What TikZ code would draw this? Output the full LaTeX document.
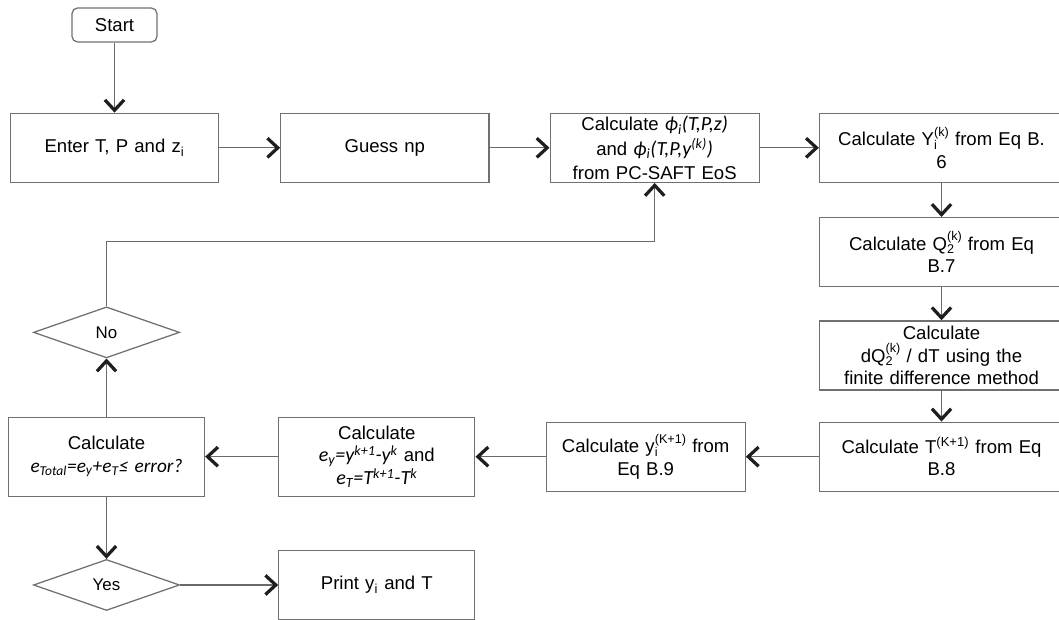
\documentclass[tikz,border=0pt]{standalone}
\usepackage{fontspec}
\setmainfont{Liberation Sans}
\newfontfamily\calfont[Scale=1.08]{Carlito}
\usepackage{tikz}
\usetikzlibrary{arrows.meta,positioning,shapes.geometric}
\definecolor{BoxGray}{HTML}{707070}
\definecolor{LineGray}{HTML}{6A6A6A}
\definecolor{TipBlack}{HTML}{1E1E1E}
\newcommand{\mi}[1]{{\calfont\itshape #1}}
\newcommand{\subsup}[2]{\rlap{\raisebox{-2.6pt}{\fontsize{9}{9}\selectfont #1}}%
  \raisebox{6.6pt}{\fontsize{9}{9}\selectfont #2}}
\tikzset{%
  block/.style={draw=BoxGray,line width=0.9pt,align=center,inner xsep=0pt,inner ysep=1pt,
    minimum height=17.25mm,text width=#1,minimum width=#1,
    font=\fontsize{13.2}{16}\selectfont},
  block/.default=52mm,
  startbox/.style={draw=BoxGray,line width=0.9pt,rounded corners=4pt,
    minimum width=21.25mm,minimum height=8.5mm,font=\fontsize{13.2}{15}\selectfont},
  decision/.style={diamond,draw=BoxGray,line width=0.9pt,inner sep=0pt,
    minimum width=36.5mm,minimum height=12.75mm,font=\fontsize{12}{13}\selectfont},
  flow/.style={-{Straight Barb[length=2.6mm,width=4.8mm,line width=2.3pt,color=TipBlack]},
    line width=0.9pt,LineGray}
}
\begin{document}
\begin{tikzpicture}[x=0.025cm,y=-0.025cm]
  \useasboundingbox (0,0) rectangle (1059,619);
  \clip (0,0) rectangle (1059,619);
  \node[startbox] (start) at (114.5,25) {Start};
  \node[block, below=17.5mm of start] (enter) {Enter T, P and z\textsubscript{i}};
  \node[block, right=15.25mm of enter] (guess) {Guess np};
  \node[block=52.25mm, font=\fontsize{13.2}{17.5}\selectfont, right=15mm of guess] (phi)
    {Calculate \mi{ϕ\textsubscript{i}(T,P,z)}\\
     and \mi{ϕ\textsubscript{i}(T,P,y\textsuperscript{(k)})}\\
     from PC-SAFT EoS};
  \node[block=61mm, right=14.75mm of phi] (ycalc) {Calculate Y\subsup{i}{(k)} from Eq B.\\6};
  \node[block=61mm, below=8.5mm of ycalc] (q2) {Calculate Q\subsup{2}{(k)} from Eq\\B.7};
  \node[block=61mm, below=8.25mm of q2] (dq2)
    {Calculate\\dQ\subsup{2}{(k)} / dT using the\\finite difference method};
  \node[block=61mm, below=7.75mm of dq2] (tnew) {Calculate T\textsuperscript{(K+1)} from Eq\\B.8};
  \node[block=49.75mm, left=18.25mm of tnew] (ynew)
    {Calculate y\subsup{i}{(K+1)} from\\Eq B.9};
  \node[block=49mm, minimum height=19.75mm, left=17.5mm of ynew] (err)
    {Calculate\\
     \mi{e\textsubscript{y}=y\textsuperscript{k+1}-y\textsuperscript{k}} and\\
     \mi{e\textsubscript{T}=T\textsuperscript{k+1}-T\textsuperscript{k}}};
  \node[block=49mm, minimum height=19.75mm, left=18.25mm of err] (etotal)
    {Calculate\\
     {\fontsize{12.7}{16}\selectfont
      \mi{e\textsubscript{Total}=e\textsubscript{y}+e\textsubscript{T}≤ error?}}};
  \node[decision, above=14.5mm of etotal] (no) {No};
  \node[decision, below=15.5mm of etotal] (yes) {Yes};
  \node[block=49mm, right=24.5mm of yes] (print) {Print y\textsubscript{i} and T};

  \draw[flow] (start) -- (enter);
  \draw[flow] (enter) -- (guess);
  \draw[flow] (guess) -- (phi);
  \draw[flow] (phi) -- (ycalc);
  \draw[flow] (ycalc) -- (q2);
  \draw[flow] (q2) -- (dq2);
  \draw[flow] (dq2) -- (tnew);
  \draw[flow] (tnew) -- (ynew);
  \draw[flow] (ynew) -- (err);
  \draw[flow] (err) -- (etotal);
  \draw[flow] (etotal) -- (no);
  \draw[flow] (no.north) -- ++(0,-65) -| (phi.south);
  \draw[flow] (etotal) -- (yes);
  \draw[flow] (yes) -- (print);
\end{tikzpicture}
\end{document}
